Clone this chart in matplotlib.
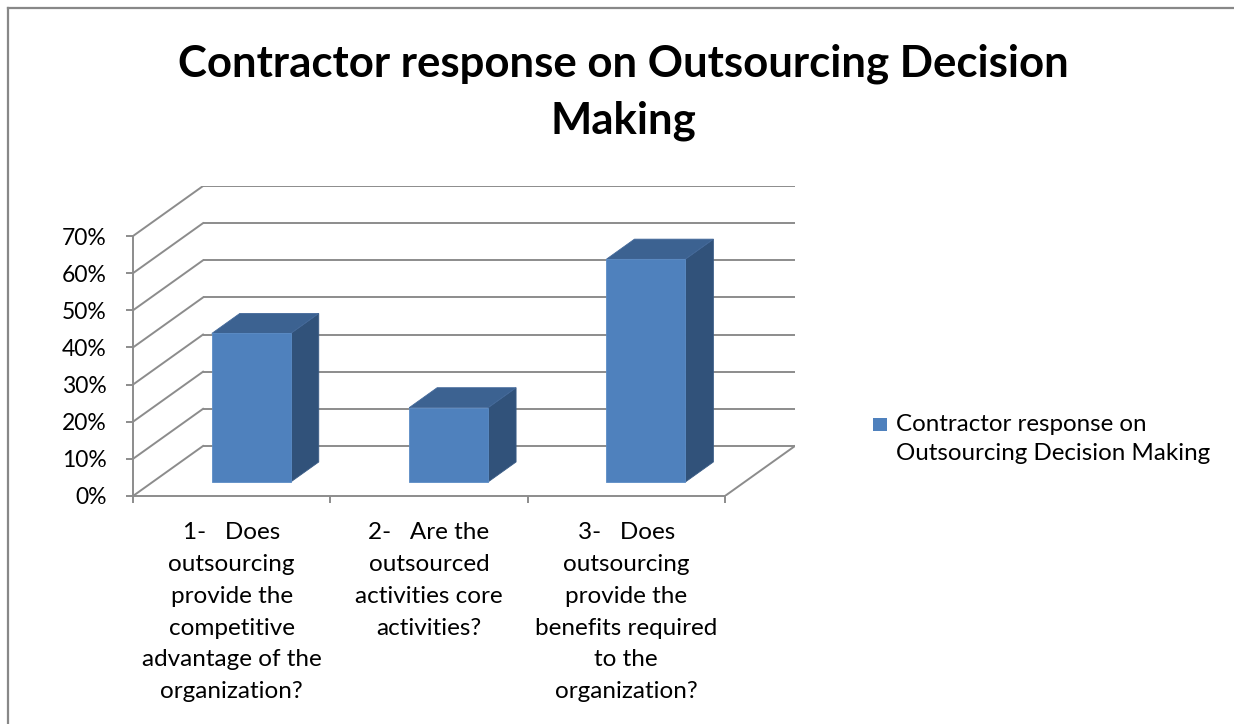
import matplotlib.pyplot as plt
from matplotlib.patches import Polygon, Rectangle

plt.rcParams["font.family"] = ["Lato", "DejaVu Sans"]

categories = [
    "1-   Does\noutsourcing\nprovide the\ncompetitive\nadvantage of the\norganization?",
    "2-   Are the\noutsourced\nactivities core\nactivities?",
    "3-   Does\noutsourcing\nprovide the\nbenefits required\nto the\norganization?",
]
values = [40, 20, 60]
yticks = [0, 10, 20, 30, 40, 50, 60, 70]
series_name = "Contractor response on\nOutsourcing Decision Making"
title = "Contractor response on Outsourcing Decision\nMaking"

FRONT = "#4f81bd"
TOP = "#3c6291"
SIDE = "#31527a"
GRID = "#8c8c8c"

# oblique depth of the 3d box, in data units (x: categories, y: percent)
DX, DY = 0.355, 13.47
# bars sit between these fractions of the depth
D0, D1 = 0.28, 0.68
W = 0.4

W_PX, H_PX = 1234, 724
fig = plt.figure(figsize=(W_PX / 100, H_PX / 100), dpi=100)

# frame around the chart area
fig.add_artist(plt.Line2D([8 / W_PX, 8 / W_PX], [0, 1 - 8 / H_PX],
                          color="#888888", lw=1.6, transform=fig.transFigure))
fig.add_artist(plt.Line2D([8 / W_PX, 1], [1 - 8 / H_PX, 1 - 8 / H_PX],
                          color="#888888", lw=1.6, transform=fig.transFigure))

ax = fig.add_axes([133 / W_PX, (H_PX - 496) / H_PX,
                   (795 - 133) / W_PX, (496 - 186) / H_PX])
ax.set_xlim(-0.5, len(values) - 0.5 + DX)
ax.set_ylim(0, yticks[-1] + DY)
ax.patch.set_visible(False)

x_left, x_right = -0.5, len(values) - 0.5

# back wall gridlines and left wall diagonals
for v in yticks:
    ax.plot([x_left + DX, x_right + DX], [v + DY, v + DY],
            color=GRID, lw=1.4, zorder=1, solid_capstyle="butt")
    ax.plot([x_left, x_left + DX], [v, v + DY], color=GRID, lw=1.4, zorder=1)
# right edge of the floor
ax.plot([x_right, x_right + DX], [0, DY], color=GRID, lw=1.4, zorder=1)

# 3d columns
for i, v in enumerate(values):
    x0 = i - W / 2 + D0 * DX
    y0 = D0 * DY
    dx = (D1 - D0) * DX
    dy = (D1 - D0) * DY
    front = Rectangle((x0, y0), W, v, facecolor=FRONT,
                      edgecolor="#5b8cc6", lw=0.6, zorder=3)
    top = Polygon([(x0, y0 + v), (x0 + W, y0 + v),
                   (x0 + W + dx, y0 + v + dy), (x0 + dx, y0 + v + dy)],
                  closed=True, facecolor=TOP, edgecolor="#44699a", lw=0.6, zorder=3)
    side = Polygon([(x0 + W, y0), (x0 + W + dx, y0 + dy),
                    (x0 + W + dx, y0 + v + dy), (x0 + W, y0 + v)],
                   closed=True, facecolor=SIDE, edgecolor="#3a5c86", lw=0.6, zorder=3)
    for p in (side, top, front):
        ax.add_patch(p)

for s in ("top", "right"):
    ax.spines[s].set_visible(False)
ax.spines["left"].set_bounds(0, yticks[-1])
ax.spines["bottom"].set_bounds(x_left, x_right)
for s in ("left", "bottom"):
    ax.spines[s].set_color(GRID)
    ax.spines[s].set_linewidth(1.4)
    ax.spines[s].set_zorder(2)

ax.set_yticks(yticks)
ax.set_yticklabels([f"{v}%" for v in yticks])
ax.tick_params(axis="y", direction="out", length=5, width=1.4, color=GRID,
               labelsize=16.5, labelcolor="black", pad=14)

ax.set_xticks([x_left + k for k in range(len(values) + 1)])
ax.set_xticklabels([])
ax.set_xticks(range(len(values)), minor=True)
ax.set_xticklabels(categories, minor=True, fontsize=17.5, linespacing=1.63,
                   va="top", ha="center")
ax.tick_params(axis="x", which="major", direction="out", length=5, width=1.4,
               color=GRID)
ax.tick_params(axis="x", which="minor", length=0, pad=19)

fig.text(0.505, 1 - 92 / H_PX, title, ha="center", va="center",
         fontsize=31.5, fontweight="bold", linespacing=1.5)

# legend swatch and label
fig.add_artist(Rectangle((873 / W_PX, 1 - 431 / H_PX), 14 / W_PX, 13 / H_PX,
                         facecolor=FRONT, edgecolor="none",
                         transform=fig.transFigure))
fig.text(896 / W_PX, 1 - 439 / H_PX, series_name, ha="left", va="center",
         fontsize=17.4, linespacing=1.43)

fig.savefig("out.png", dpi=100, facecolor="white")
